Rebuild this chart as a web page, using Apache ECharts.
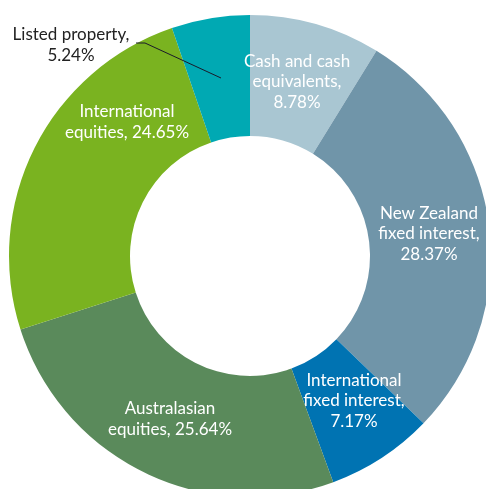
<!DOCTYPE html>
<html>
<head>
<meta charset="utf-8">
<script src="https://cdn.jsdelivr.net/npm/echarts@6/dist/echarts.min.js"></script>
<style>
  html, body { margin: 0; padding: 0; background: #fff; }
  #pie { width: 486px; height: 489px; }
</style>
</head>
<body>
<div id="pie"></div>
<script>
// asset allocation
var names = ['Cash and cash\nequivalents,', 'New Zealand\nfixed interest,', 'International\nfixed interest,',
  'Australasian\nequities,', 'International\nequities,', 'Listed property,'];
var shares = [8.78, 28.37, 7.17, 25.64, 24.65, 5.24];
var colors = ['#a9c6d2', '#7095a9', '#0073b2', '#5a8a5b', '#7ab320', '#00a9b3'];

// where each label sits (centre of text block)
var labelPos = [[297, 82], [429, 234], [354, 401], [170, 419], [127, 122], [71, 45]];

var myChart = echarts.init(document.getElementById('pie'));

var items = [];
for (var i = 0; i < names.length; i++) {
  var it = { name: names[i], value: shares[i], itemStyle: { color: colors[i] } };
  if (i == 5) {
    it.label = { color: '#222' };
  }
  items.push(it);
}

var option = {
  animation: false,
  graphic: [{
    // leader line for the small slice
    type: 'polyline',
    shape: { points: [[136, 43], [145, 43], [221, 78]] },
    style: { stroke: '#1a1a2a', lineWidth: 1, fill: null },
    z: 100
  }],
  series: [{
    type: 'pie',
    center: [250, 256],
    radius: [120, 241],
    startAngle: 90,
    clockwise: true,
    avoidLabelOverlap: false,
    itemStyle: { borderWidth: 0 },
    label: {
      show: true,
      position: 'inside',
      color: '#fff',
      fontFamily: 'Lato',
      fontSize: 17,
      lineHeight: 20.5,
      align: 'center',
      formatter: function (p) {
        var parts = p.name.split('\n');
        if (p.dataIndex == 3 || p.dataIndex == 4) {
          return parts[0] + '\n' + parts[1] + ' ' + p.value.toFixed(2) + '%';
        }
        return p.name + '\n' + p.value.toFixed(2) + '%';
      }
    },
    labelLine: { show: false },
    labelLayout: function (p) {
      var pos = labelPos[p.dataIndex];
      return { x: pos[0], y: pos[1], align: 'center', verticalAlign: 'middle' };
    },
    data: items
  }]
};

myChart.setOption(option);
window.addEventListener('resize', function () {
  myChart.resize();
});
</script>
</body>
</html>
